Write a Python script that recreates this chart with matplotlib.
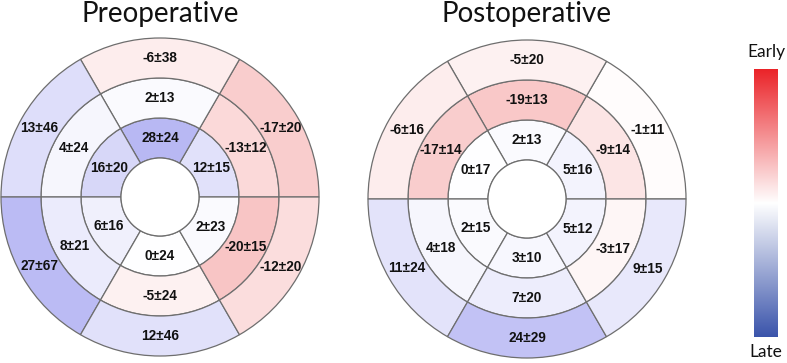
import matplotlib.pyplot as plt
import numpy as np
from matplotlib.colors import LinearSegmentedColormap
from matplotlib.patches import Wedge

# segment order: 0-60, 60-120, 120-180, 180-240, 240-300, 300-360 degrees
pre_outer_mean = [-17, -6, 13, 27, 12, -12]
pre_outer_sd = [20, 38, 46, 67, 46, 20]
pre_middle_mean = [-13, 2, 4, 8, -5, -20]
pre_middle_sd = [12, 13, 24, 21, 24, 15]
pre_inner_mean = [12, 28, 16, 6, 0, 2]
pre_inner_sd = [15, 24, 20, 16, 24, 23]

post_outer_mean = [-1, -5, -6, 11, 24, 9]
post_outer_sd = [11, 20, 16, 24, 29, 15]
post_middle_mean = [-9, -19, -17, 4, 7, -3]
post_middle_sd = [14, 13, 14, 18, 20, 17]
post_inner_mean = [5, 2, 0, 2, 3, 5]
post_inner_sd = [16, 13, 17, 15, 10, 12]

titles = ["Preoperative", "Postoperative"]

W, H = 787, 363
seg_cmap = LinearSegmentedColormap.from_list(
    "seg", [(0.90, 0.16, 0.16), (1, 1, 1), (0.27, 0.27, 0.88)]
)
bar_cmap = LinearSegmentedColormap.from_list(
    "bar", [(0.92, 0.14, 0.16), (1, 1, 1), (0.23, 0.33, 0.67)]
)
VMAX = 74.0

fig = plt.figure(figsize=(W / 100, H / 100), dpi=100)
ax = fig.add_axes([0, 0, 1, 1])
ax.set_xlim(0, W)
ax.set_ylim(0, H)
ax.set_aspect("equal")
ax.axis("off")

radii = [39, 79, 119, 159]


def draw_bullseye(cx, cy, rings, title):
    # rings: list of (means, sds) from inner to outer
    for k, (means, sds) in enumerate(rings):
        r_in, r_out = radii[k], radii[k + 1]
        for i, (m, s) in enumerate(zip(means, sds)):
            t1, t2 = i * 60, (i + 1) * 60
            color = seg_cmap(0.5 + m / (2 * VMAX))
            ax.add_patch(
                Wedge((cx, cy), r_out, t1, t2, width=r_out - r_in,
                      facecolor=color, edgecolor="#6e6e6e", linewidth=0.9)
            )
            a = np.deg2rad(t1 + 30)
            rm = (r_in + r_out) / 2
            ax.text(cx + rm * np.cos(a), cy + rm * np.sin(a), f"{m}\u00b1{s}",
                    ha="center", va="center", fontsize=9.8, fontweight="bold",
                    family="Liberation Sans", color="#111111")
    ax.add_patch(Wedge((cx, cy), radii[0], 0, 360, facecolor="white",
                       edgecolor="#6e6e6e", linewidth=0.9))
    ax.text(cx, 349, title, ha="center", va="center", fontsize=20,
            family="Lato", color="#111111")


draw_bullseye(160, 166, [(pre_inner_mean, pre_inner_sd),
                         (pre_middle_mean, pre_middle_sd),
                         (pre_outer_mean, pre_outer_sd)], titles[0])
draw_bullseye(527, 164, [(post_inner_mean, post_inner_sd),
                         (post_middle_mean, post_middle_sd),
                         (post_outer_mean, post_outer_sd)], titles[1])

# colour bar: red (early) on top, blue (late) at the bottom
grad = np.linspace(0, 1, 256).reshape(-1, 1)
ax.imshow(grad, cmap=bar_cmap, extent=(754, 778, 26, 294), aspect="auto",
          zorder=2)
ax.text(766, 311, "Early", ha="center", va="center", fontsize=12.5,
        family="Lato", color="#111111")
ax.text(766, 11, "Late", ha="center", va="center", fontsize=12.5,
        family="Lato", color="#111111")

fig.savefig("out.png", dpi=100)
